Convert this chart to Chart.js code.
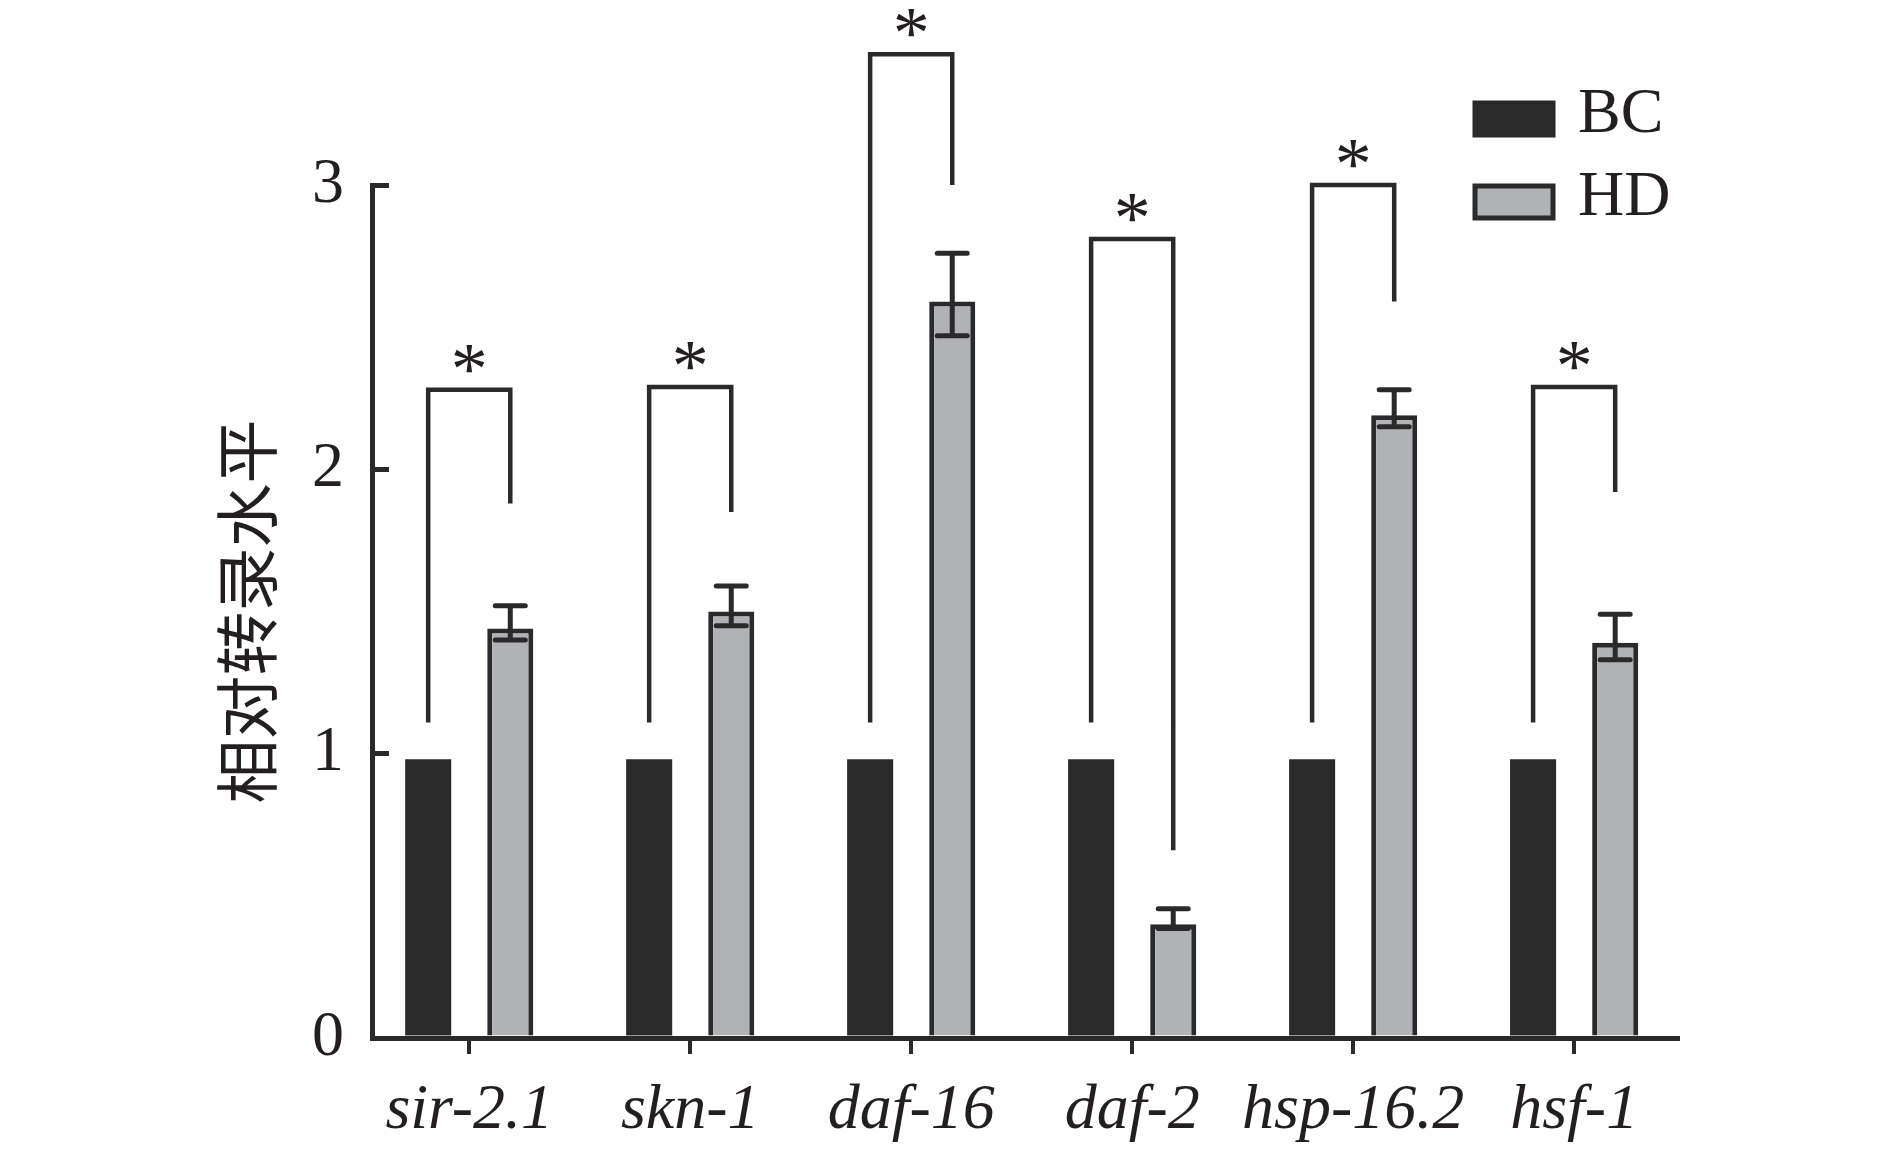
<!DOCTYPE html>
<html>
<head>
<meta charset="utf-8">
<script src="https://cdn.jsdelivr.net/npm/chart.js@4.4.1/dist/chart.umd.min.js"></script>
<style>
  html, body { margin: 0; padding: 0; background: #ffffff; }
  #wrap { width: 1890px; height: 1151px; }
</style>
</head>
<body>
<div id="wrap"><canvas id="grafico"></canvas></div>
<script>
const genes = ['sir-2.1', 'skn-1', 'daf-16', 'daf-2', 'hsp-16.2', 'hsf-1'];
const seriesNames = ['BC', 'HD'];
const bcValues = [0.98, 0.98, 0.98, 0.98, 0.98, 0.98];
const hdValues = [1.44, 1.50, 2.59, 0.40, 2.19, 1.39];
const hdErrHigh = [1.52, 1.59, 2.76, 0.455, 2.28, 1.49];
const hdErrLow = [1.40, 1.45, 2.47, 0.385, 2.15, 1.33];
// significance brackets: top of bracket, bottom of left leg, bottom of right leg
const bracketTop = [2.28, 2.29, 3.46, 2.81, 3.00, 2.29];
const bracketLeftLow = [1.11, 1.11, 1.11, 1.11, 1.11, 1.11];
const bracketRightLow = [1.88, 1.85, 3.00, 0.66, 2.59, 1.92];
const yTicks = [0, 1, 2, 3];

const dark = '#2b2a2b';
const grey = '#b1b2b5';
const ink = '#231f20';
const serif = "'Liberation Serif', 'Times New Roman', serif";

const extras = {
    id: 'extras',
    afterDatasetsDraw(chart) {
        const ctx = chart.ctx;
        const y = chart.scales.y;
        const bc = chart.getDatasetMeta(0).data;
        const hd = chart.getDatasetMeta(1).data;
        ctx.save();
        ctx.strokeStyle = dark;
        ctx.lineCap = 'round';

        // error bars on HD
        ctx.lineWidth = 5;
        hd.forEach((bar, i) => {
            const top = y.getPixelForValue(hdErrHigh[i]);
            const bot = y.getPixelForValue(hdErrLow[i]);
            ctx.beginPath();
            ctx.moveTo(bar.x, top); ctx.lineTo(bar.x, bot);
            ctx.moveTo(bar.x - 15, top); ctx.lineTo(bar.x + 15, top);
            ctx.moveTo(bar.x - 15, bot); ctx.lineTo(bar.x + 15, bot);
            ctx.stroke();
        });

        // brackets + asterisks
        ctx.lineWidth = 4.5;
        ctx.lineJoin = 'miter';
        ctx.lineCap = 'butt';
        ctx.fillStyle = ink;
        ctx.font = '74px ' + serif;
        ctx.textAlign = 'center';
        ctx.textBaseline = 'alphabetic';
        genes.forEach((g, i) => {
            const l = bc[i].x, r = hd[i].x;
            const t = y.getPixelForValue(bracketTop[i]);
            ctx.beginPath();
            ctx.moveTo(l, y.getPixelForValue(bracketLeftLow[i]));
            ctx.lineTo(l, t);
            ctx.lineTo(r, t);
            ctx.lineTo(r, y.getPixelForValue(bracketRightLow[i]));
            ctx.stroke();
            ctx.fillText('*', (l + r) / 2, t + 4);
        });

        // legend, top right
        const area = chart.chartArea;
        const rows = [area.top - 66, area.top + 17];
        ctx.font = '64px ' + serif;
        ctx.textAlign = 'left';
        ctx.textBaseline = 'middle';
        chart.data.datasets.forEach((ds, i) => {
            const cy = rows[i];
            const x0 = area.right - 205;
            ctx.fillStyle = ds.backgroundColor;
            ctx.strokeStyle = dark;
            ctx.lineWidth = 5;
            ctx.beginPath();
            ctx.rect(x0 + 2, cy - 16, 78, 32);
            ctx.fill();
            ctx.stroke();
            ctx.fillStyle = ink;
            ctx.fillText(ds.label, x0 + 105, cy - 4);
        });
        ctx.restore();
    }
};

new Chart(document.getElementById('grafico'), {
    type: 'bar',
    data: {
        datasets: [
            {
                label: seriesNames[0],
                data: genes.map((g, i) => ({ x: i, y: bcValues[i] })),
                backgroundColor: dark,
                borderColor: dark,
                borderWidth: 0
            },
            {
                label: seriesNames[1],
                data: genes.map((g, i) => ({ x: i, y: hdValues[i] })),
                backgroundColor: grey,
                borderColor: dark,
                borderWidth: 5,
                borderSkipped: 'bottom'
            }
        ]
    },
    options: {
        responsive: true,
        maintainAspectRatio: false,
        devicePixelRatio: 1,
        animation: false,
        categoryPercentage: 0.743,
        barPercentage: 0.561,
        layout: { padding: { left: 0, top: 185, right: 212, bottom: 0 } },
        plugins: { legend: { display: false }, tooltip: { enabled: false } },
        scales: {
            x: {
                type: 'linear',
                offset: false,
                min: -0.44,
                max: 5.47,
                afterBuildTicks: axis => { axis.ticks = genes.map((g, i) => ({ value: i })); },
                afterFit: axis => { axis.height = 113; },
                grid: { offset: false, drawOnChartArea: false, drawTicks: true, tickLength: 16, lineWidth: 4, color: dark },
                border: { display: true, color: dark, width: 5 },
                ticks: {
                    autoSkip: false,
                    maxRotation: 0,
                    padding: 19,
                    color: ink,
                    font: { family: serif, size: 64, style: 'italic' },
                    callback: value => genes[value]
                }
            },
            y: {
                min: 0,
                max: 3,
                afterBuildTicks: axis => { axis.ticks = yTicks.map(v => ({ value: v })); },
                afterFit: axis => { axis.width = 372; },
                grid: { drawOnChartArea: false, drawTicks: true, tickLength: -17, lineWidth: 5, color: dark },
                border: { display: true, color: dark, width: 5 },
                ticks: {
                    padding: 45,
                    color: ink,
                    font: { family: serif, size: 64 }
                },
                title: {
                    display: true,
                    text: '相对转录水平',
                    color: ink,
                    font: { family: "'Noto Sans CJK SC', sans-serif", size: 64, lineHeight: 1 },
                    padding: { top: 215, bottom: 0 }
                }
            }
        }
    },
    plugins: [extras]
});
</script>
</body>
</html>
